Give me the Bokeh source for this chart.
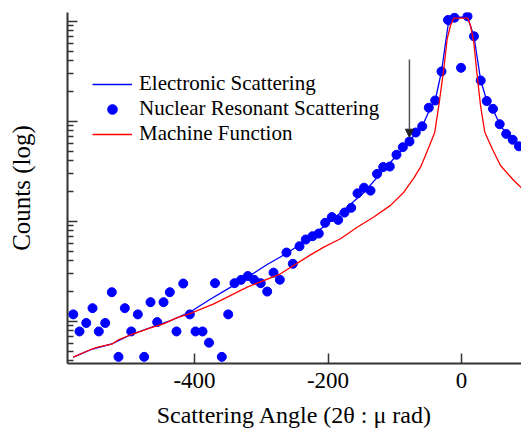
from bokeh.plotting import figure
from bokeh.models import Range1d, FixedTicker, Legend, LegendItem, Arrow, NormalHead
from bokeh.embed import file_html
from bokeh.resources import INLINE

# Nuclear resonant scattering data points
nrs_angle = [-581.7, -572.3, -562.2, -552.8, -543.4, -533.8, -523.9, -513.9, -504.4, -494.8,
             -484.9, -475.4, -465.9, -455.9, -446.4, -437.0, -427.0, -416.9, -407.0, -398.5,
             -388.0, -378.3, -369.3, -359.1, -349.5, -340.1, -330.3, -320.1, -310.6, -300.8,
             -291.1, -281.6, -272.2, -262.2, -252.7, -242.7, -233.3, -223.2, -213.8, -204.2,
             -194.3, -184.7, -175.3, -165.2, -155.8, -146.1, -136.3, -126.6, -117.3, -107.4,
             -97.4, -87.9, -77.9, -68.5, -58.9, -49.0, -39.4, -30.0, -20.2, -10.5,
             -0.7, 9.0, 18.7, 28.8, 37.8, 47.2, 57.2, 67.0, 76.7, 86.1]
nrs_counts = [11.7, 7.9, 9.6, 13.5, 7.9, 9.6, 19.5, 4.4, 13.5, 7.9,
              11.7, 4.4, 15.5, 9.8, 15.5, 19.5, 7.9, 23.8, 11.7, 7.9,
              7.9, 6.1, 24.0, 4.4, 11.7, 24.0, 25.9, 28.3, 25.9, 24.0,
              19.8, 30.6, 26.0, 48.6, 37.5, 56.2, 65.6, 70.8, 75.3, 96.4,
              110, 103, 122, 136, 190, 216, 202, 297, 348, 352,
              462, 550, 627, 771, 889, 1365, 1611, 3141, 10280, 10840,
              3420, 11190, 7063, 2553, 1592, 1330, 933, 746, 652, 561]

# Electronic scattering curve
elec_angle = [-581.7, -552.8, -523.9, -494.8, -465.9, -437.0, -407.0, -378.3, -349.5, -320.1,
              -291.1, -262.2, -233.3, -204.2, -175.3, -146.1, -117.3, -87.9, -68.5, -58.9,
              -49.0, -39.4, -30.0, -20.2, -10.5, 9.0, 18.7, 28.8, 37.8, 47.2,
              57.2, 67.0, 76.7, 86.1]
elec_counts = [4.37, 5.27, 5.92, 7.36, 8.65, 10.05, 12.3, 16.3, 21.2, 27.7,
               36.9, 47.5, 64.1, 90.6, 131, 194, 321, 533, 753, 885,
               1250, 1611, 3141, 9057, 10890, 11015, 7031, 2553, 1611, 1309,
               933, 746, 652, 558]

# Machine function curve
mach_angle = [-581.7, -552.8, -543.4, -523.9, -513.9, -494.8, -465.9, -446.4, -427.0, -407.0,
              -371.1, -321.0, -271.2, -226.2, -206.3, -181.3, -156.3, -131.4, -106.4, -86.4,
              -71.5, -61.4, -54.0, -47.9, -40.0, -34.0, -26.5, -21.4, -16.5, -11.5,
              9.4, 13.5, 18.4, 23.5, 28.5, 34.9, 46.0, 58.4, 78.4, 89.9]
mach_counts = [4.37, 5.30, 5.55, 5.89, 6.52, 7.36, 8.59, 9.42, 10.8, 11.9,
               14.9, 21.9, 29.8, 46.1, 55.0, 66.7, 87.1, 110, 144, 195,
               270, 347, 454, 571, 776, 1435, 3342, 6668, 9057, 10715,
               10715, 9057, 6166, 2864, 1435, 776, 530, 361, 255, 216]

x_ticks = [-600, -400, -200, 0, 200]
x_tick_labels = ["-600", "-400", "-200", "0", "200"]
y_major = [10, 100, 1000, 10000]
y_minor = [m * d for d in [1, 10, 100, 1000] for m in range(2, 10)]

# arrow marker
arrow_angle = -78
arrow_top = 4140
arrow_tip = 692

SERIF = "Liberation Serif"

p = figure(width=521, height=432, output_backend="svg", toolbar_location=None,
           x_range=Range1d(-590.3, 89.9), y_range=Range1d(3.776, 12218),
           y_axis_type="log",
           min_border_left=67, min_border_right=0, min_border_top=12, min_border_bottom=69)
p.outline_line_color = None
p.grid.grid_line_color = None
p.background_fill_color = "white"
p.border_fill_color = "white"

r_elec = p.line(elec_angle, elec_counts, line_color="#0000ff", line_width=1.3)
r_nrs = p.scatter(nrs_angle, nrs_counts, size=9, marker="circle",
                  fill_color="#0000ff", line_color="#0000ff")
r_mach = p.line(mach_angle, mach_counts, line_color="#ff0000", line_width=1.3)

p.add_layout(Arrow(end=NormalHead(size=8, fill_color="#222222", line_color="#222222"),
                   x_start=arrow_angle, y_start=arrow_top, x_end=arrow_angle, y_end=arrow_tip,
                   line_color="#555555", line_width=1.5))

# x axis
xa = p.xaxis[0]
xa.ticker = FixedTicker(ticks=x_ticks, minor_ticks=[])
xa.major_label_overrides = dict(zip(x_ticks, x_tick_labels))
xa.major_tick_in = 10
xa.major_tick_out = 0
xa.minor_tick_in = 0
xa.minor_tick_out = 0
xa.axis_line_color = "#333333"
xa.axis_line_width = 2
xa.major_tick_line_color = "#333333"
xa.major_tick_line_width = 1.5
xa.major_label_text_font = SERIF
xa.major_label_text_font_size = "23px"
xa.major_label_text_color = "black"
xa.major_label_standoff = 9
xa.axis_label = "Scattering Angle (2\u03b8 : \u03bc rad)"
xa.axis_label_text_font = SERIF
xa.axis_label_text_font_size = "24px"
xa.axis_label_text_font_style = "normal"
xa.axis_label_text_color = "black"
xa.axis_label_standoff = 11

# y axis (no tick labels)
ya = p.yaxis[0]
ya.ticker = FixedTicker(ticks=y_major, minor_ticks=y_minor)
ya.major_tick_in = 10
ya.major_tick_out = 0
ya.minor_tick_in = 6
ya.minor_tick_out = 0
ya.axis_line_color = "#333333"
ya.axis_line_width = 2
ya.major_tick_line_color = "#333333"
ya.major_tick_line_width = 1.5
ya.minor_tick_line_color = "#333333"
ya.minor_tick_line_width = 1.5
ya.major_label_overrides = {t: " " for t in y_major}
ya.major_label_text_font_size = "1px"
ya.major_label_standoff = 0
ya.axis_label = "Counts (log)"
ya.axis_label_text_font = SERIF
ya.axis_label_text_font_size = "25px"
ya.axis_label_text_font_style = "normal"
ya.axis_label_text_color = "black"
ya.axis_label_standoff = 29

legend = Legend(items=[LegendItem(label="Electronic Scattering", renderers=[r_elec]),
                       LegendItem(label="Nuclear Resonant Scattering", renderers=[r_nrs]),
                       LegendItem(label="Machine Function", renderers=[r_mach])],
                location=(25, 217), orientation="vertical",
                glyph_width=40, glyph_height=24, label_height=24, label_standoff=7,
                spacing=0, padding=0, margin=0,
                label_text_font=SERIF, label_text_font_size="21px", label_text_color="black",
                border_line_color=None, background_fill_alpha=0)
p.add_layout(legend)

open("out.html", "w").write(file_html(p, INLINE))
